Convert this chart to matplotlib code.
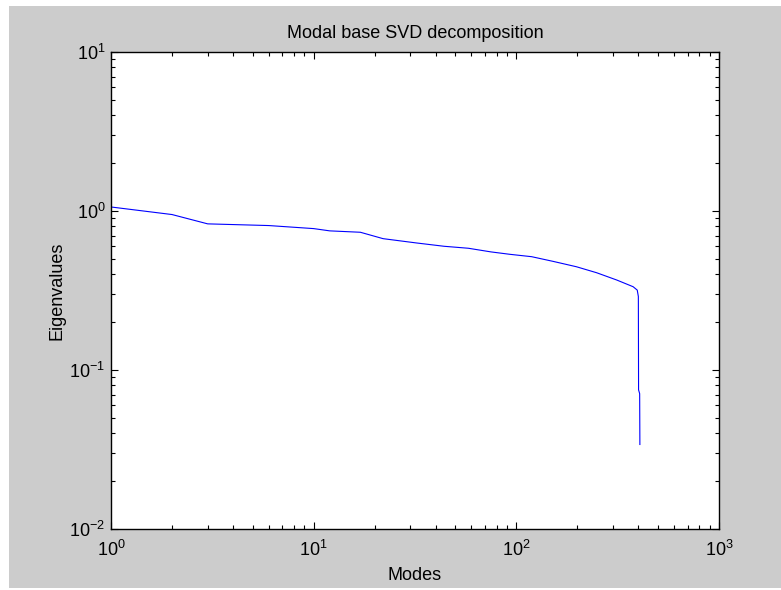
import matplotlib
matplotlib.use("Agg")
import matplotlib.pyplot as plt
from matplotlib.patches import Rectangle

# values
modes = [1, 2, 3, 6, 10, 12, 17, 22, 32, 44, 58, 75, 93, 119, 152, 198,
         249, 313, 377, 395, 400, 401, 406, 407]
eigenvalues = [1.06, 0.95, 0.83, 0.81, 0.775, 0.75, 0.735, 0.67, 0.63, 0.60,
               0.583, 0.553, 0.534, 0.516, 0.482, 0.446, 0.409, 0.368, 0.334,
               0.318, 0.29, 0.075, 0.071, 0.034]

plt.rcParams['font.family'] = ['Liberation Sans', 'DejaVu Sans']
plt.rcParams['mathtext.fontset'] = 'custom'
plt.rcParams['mathtext.rm'] = 'Liberation Sans'
plt.rcParams['mathtext.default'] = 'regular'

fig = plt.figure(figsize=(7.81, 5.9), dpi=100, facecolor='white')
fig.patches.append(Rectangle((9 / 781, 2 / 590), 1 - 9 / 781, 582 / 590,
                             transform=fig.transFigure, facecolor='#cccccc',
                             edgecolor='none', zorder=-10))

ax = fig.add_axes([111 / 781, 61 / 590, 608 / 781, 477 / 590])
ax.loglog(modes, eigenvalues, color='#0000ff', linewidth=0.8)

ax.set_xlim(1, 1000)
ax.set_ylim(0.01, 10)
ax.set_title('Modal base SVD decomposition', fontsize=13, pad=10)
ax.set_xlabel('Modes', fontsize=13, labelpad=5)
ax.set_ylabel('Eigenvalues', fontsize=13, labelpad=3)

for s in ax.spines.values():
    s.set_linewidth(1.0)
ax.tick_params(which='both', direction='in', top=True, right=True,
               labelsize=13, width=0.8)
ax.tick_params(which='major', length=5)
ax.tick_params(which='minor', length=3)
ax.tick_params(axis='x', pad=8)
ax.tick_params(axis='y', pad=4)

fig.savefig('out.png', dpi=100, facecolor=fig.get_facecolor())
